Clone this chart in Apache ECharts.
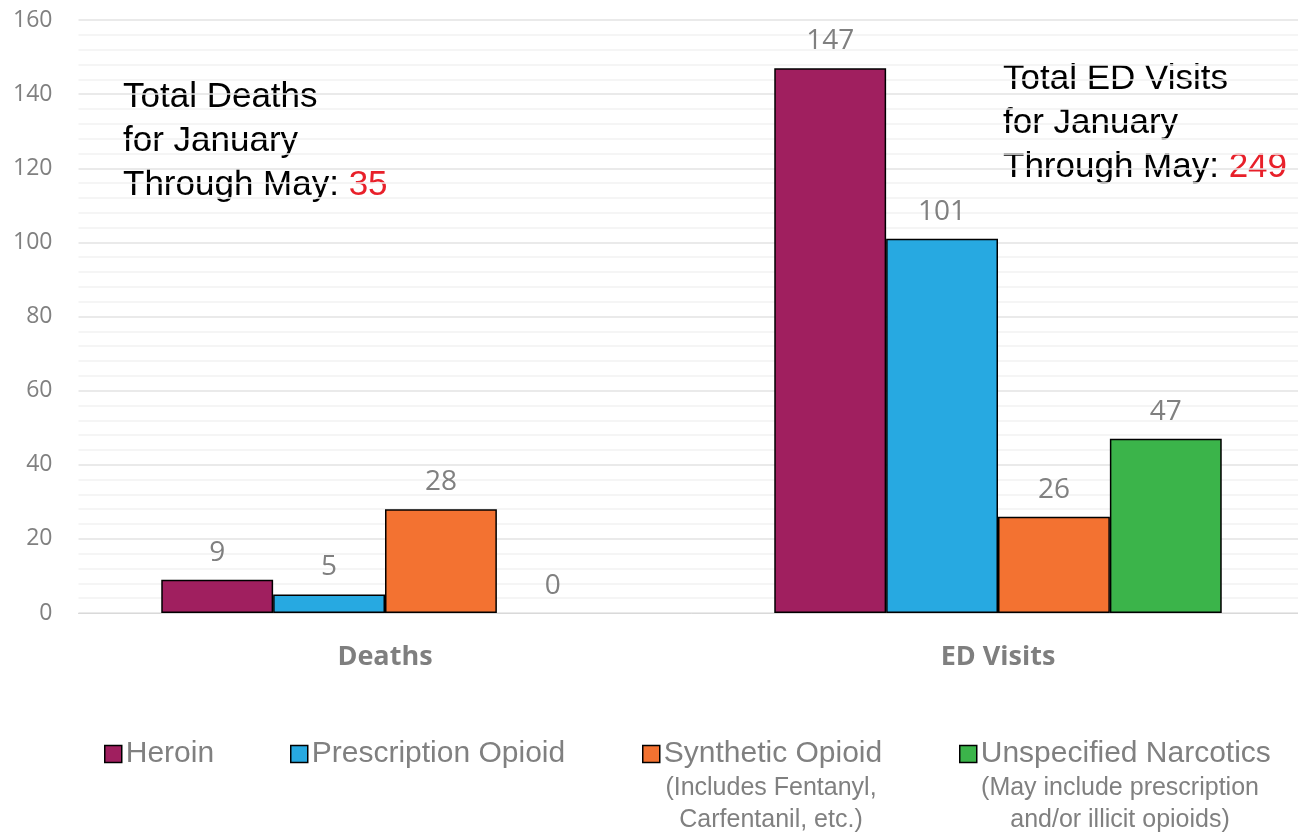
<!DOCTYPE html>
<html><head><meta charset="utf-8">
<script src="https://cdn.jsdelivr.net/npm/echarts@6/dist/echarts.min.js"></script>
<style>html,body{margin:0;padding:0;background:#fff;overflow:hidden;width:1298px;height:833px}#c{width:1312px;height:833px}</style>
</head><body><div id="c"></div>
<script>
const categories = ['Deaths', 'ED Visits'];
const seriesNames = ['Heroin', 'Prescription Opioid', 'Synthetic Opioid', 'Unspecified Narcotics'];
const heroin = [9, 147];
const prescription = [5, 101];
const synthetic = [28, 26];
const unspecified = [0, 47];
const totalDeaths = 35;
const totalEDVisits = 249;
const yTicks = [0, 20, 40, 60, 80, 100, 120, 140, 160];
const legendNotes = [[], [], ['(Includes Fentanyl,', 'Carfentanil, etc.)'], ['(May include prescription', 'and/or illicit opioids)']];

const colors = ['#A01F5F', '#27A9E1', '#F37231', '#3BB44A'];
const values = [heroin, prescription, synthetic, unspecified];
const numFont = '"Open Sans", sans-serif';
const txtFont = '"Liberation Sans", Arial, sans-serif';

const chart = echarts.init(document.getElementById('c'));
const legendLefts = [99, 285, 637, 954];
const noteCenters = [0, 0, 771, 1120];

const graphics = [];
legendNotes.forEach((lines, i) => {
  lines.forEach((t, j) => {
    graphics.push({type: 'text',
      style: {text: t, x: noteCenters[i], y: 788 + j * 32, align: 'center', verticalAlign: 'middle',
        font: '25px ' + txtFont, fill: '#808080'}});
  });
});
function annot(x, y, l1, l2, l3, num) {
  return {type: 'text', style: {x: x, y: y, text: l1 + '\n' + l2 + '\n' + l3 + '{r|' + num + '}',
    font: '35px ' + txtFont, fill: '#000', lineHeight: 44,
    rich: {r: {fill: '#E8202A', font: '35px ' + txtFont, lineHeight: 44}}}};
}
graphics.push(annot(123, 75, 'Total Deaths', 'for January', 'Through May: ', totalDeaths));
graphics.push(annot(1003, 57, 'Total ED Visits', 'for January', 'Through May: ', totalEDVisits));

chart.setOption({
  animation: false,
  backgroundColor: '#fff',
  color: colors,
  grid: {left: 78.5, top: 20, width: 1226, height: 593, containLabel: false},
  legend: seriesNames.map((n, i) => ({
    data: [n], left: legendLefts[i], top: 734, itemWidth: 17, itemHeight: 17, itemGap: 6,
    icon: 'rect',
    textStyle: {fontFamily: txtFont, fontSize: 30, color: '#808080', padding: [0, 0, 0, -1]},
    itemStyle: {borderColor: '#000', borderWidth: 1.5}
  })),
  xAxis: {
    type: 'category', data: categories,
    axisLine: {show: true, lineStyle: {color: '#d9d9d9', width: 1}},
    axisTick: {show: false},
    axisLabel: {fontFamily: numFont, fontWeight: 'bold', fontSize: 27, color: '#7f7f7f', margin: 31}
  },
  yAxis: {
    type: 'value', min: yTicks[0], max: yTicks[yTicks.length - 1], interval: 20,
    axisLine: {show: false}, axisTick: {show: false},
    axisLabel: {fontFamily: numFont, fontSize: 23, color: '#808080', margin: 26},
    splitLine: {lineStyle: {color: '#e3e3e3', width: 1.5}},
    minorTick: {show: false, splitNumber: 5},
    minorSplitLine: {show: true, lineStyle: {color: '#f2f2f2', width: 1.5}}
  },
  series: seriesNames.map((n, i) => ({
    name: n, type: 'bar',
    data: values[i].map(v => v === 0 ? {value: v, itemStyle: {borderWidth: 0}} : v),
    barGap: '0%', barCategoryGap: '27%',
    itemStyle: {color: colors[i], borderColor: '#000', borderWidth: 1.5},
    label: {show: true, position: 'top', distance: 13, fontFamily: numFont, fontSize: 28, color: '#808080'}
  })),
  graphic: graphics
});
</script></body></html>
